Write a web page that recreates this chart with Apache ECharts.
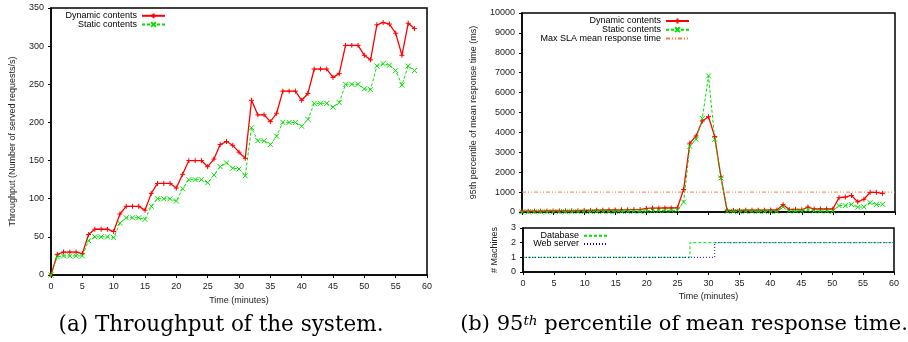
<!DOCTYPE html>
<html><head><meta charset="utf-8">
<script src="https://cdn.jsdelivr.net/npm/echarts@6/dist/echarts.min.js"></script>
<style>html,body{margin:0;padding:0;background:#fff}#c{width:908px;height:342px}</style>
</head><body><div id="c"></div>
<script>
const minutes = [0,1,2,3,4,5,6,7,8,9,10,11,12,13,14,15,16,17,18,19,20,21,22,23,24,25,26,27,28,29,30,31,32,33,34,35,36,37,38,39,40,41,42,43,44,45,46,47,48,49,50,51,52,53,54,55,56,57,58];
const dynamicThroughput = [0,27,30,30,30,28,53,60,60,60,57,80,90,90,90,85,107,120,120,120,114,132,150,150,150,142,152,171,175,170,161,153,229,210,210,201,212,241,241,241,229,238,270,270,270,259,264,301,301,301,288,282,328,331,329,317,288,330,323];
const staticThroughput = [0,24,25,25,25,25,45,50,50,50,49,68,75,75,75,73,90,100,100,100,97,113,125,125,125,121,131,142,147,140,139,130,193,176,176,171,182,200,200,200,195,204,225,225,225,220,226,250,250,250,244,243,274,277,275,268,249,274,268];
const dynamicResponse = [40,40,45,45,50,50,55,55,60,60,80,80,90,90,100,100,110,110,120,120,180,190,190,200,200,210,1130,3460,3820,4570,4790,3790,1760,80,80,80,90,90,90,90,100,100,370,120,130,110,250,150,150,150,150,720,750,830,510,640,985,985,935];
const staticResponse = [10,10,10,10,10,15,15,15,15,20,20,20,25,25,25,30,30,30,35,35,60,70,70,80,80,90,500,3300,3650,4700,6840,3650,1710,30,30,30,30,30,30,30,30,30,250,50,60,50,120,60,50,50,50,320,320,380,240,260,470,380,390];
const slaMinutes = [0,60];
const slaLimit = 1000;
const databaseMinutes = [0,27,60];
const databaseMachines = [1,2,2];
const webMinutes = [0,31,60];
const webMachines = [1,2,2];
const timeTicks = {min:0,max:60,interval:5};

const pair = (xs, ys) => xs.map((x,i)=>[x, ys[i]]);
const FONT = 'Liberation Sans';
const RED = '#ff0000', GREEN = '#00e000', BLUE = '#0000ff', ORANGE = '#ff7a40';
const plusSym = 'path://M0,5L10,5M5,0L5,10';
const crossSym = 'path://M0,0L10,10M10,0L0,10';
const hidden = {color:'rgba(0,0,0,0)', borderColor:'rgba(0,0,0,0)', borderWidth:0};
const lbl = {fontFamily:FONT, fontSize:9, color:'#222'};
const axLine = {show:true, lineStyle:{color:'#000', width:1.5}};
const tick = {show:true, inside:false, length:3, lineStyle:{color:'#000', width:1}};
const plain = v => String(v);

function xAx(grid, showLabel, name, gap){
  return {type:'value', gridIndex:grid, min:timeTicks.min, max:timeTicks.max, interval:timeTicks.interval,
    axisLine:axLine, axisTick:tick, splitLine:{show:false},
    axisLabel:Object.assign({show:showLabel, margin:7, formatter:plain}, lbl),
    name:name, nameLocation:'middle', nameGap:gap, nameTextStyle:lbl};
}
function yAx(grid, min, max, interval, name, gap){
  return {type:'value', gridIndex:grid, min:min, max:max, interval:interval,
    axisLine:axLine, axisTick:tick, splitLine:{show:false},
    axisLabel:Object.assign({margin:7, formatter:plain}, lbl),
    name:name, nameLocation:'middle', nameGap:gap, nameTextStyle:lbl};
}
function dyn(xi, yi, data){
  return {name:'Dynamic contents', type:'line', xAxisIndex:xi, yAxisIndex:yi, data:data,
    symbol:plusSym, symbolSize:5, showAllSymbol:true, animation:false,
    lineStyle:{color:RED, width:1.3},
    itemStyle:{color:RED, borderColor:RED, borderWidth:1}};
}
function sta(xi, yi, data){
  return {name:'Static contents', type:'line', xAxisIndex:xi, yAxisIndex:yi, data:data,
    symbol:crossSym, symbolSize:5, showAllSymbol:true, animation:false,
    lineStyle:{color:GREEN, width:1, type:[3,2]},
    itemStyle:{color:GREEN, borderColor:GREEN, borderWidth:1}};
}
function plainLine(name, xi, yi, data, color, dash, step){
  const s = {name:name, type:'line', xAxisIndex:xi, yAxisIndex:yi, data:data,
    symbol:'circle', symbolSize:1, showSymbol:false, animation:false,
    lineStyle:{color:color, width:1, type:dash}, itemStyle:hidden};
  if (step) s.step = step;
  return s;
}
function leg(name, right, top){
  return {orient:'vertical', align:'right', itemWidth:23, itemHeight:6, itemGap:0, padding:0,
    right:right, top:top, data:[name], selectedMode:false,
    textStyle:{fontFamily:FONT, fontSize:9, color:'#000'}};
}

const option = {
  animation:false,
  grid:[
    {left:51, top:8, width:376, height:267, show:true, borderColor:'#000', borderWidth:1.5},
    {left:522, top:13, width:373, height:199, show:true, borderColor:'#000', borderWidth:1.5},
    {left:523, top:228, width:371, height:44, show:true, borderColor:'#000', borderWidth:1.5}
  ],
  xAxis:[xAx(0,true,'Time (minutes)',20), xAx(1,false,'',20), xAx(2,true,'Time (minutes)',20)],
  yAxis:[
    yAx(0,0,350,50,'Throughput (Number of served requests/s)',34),
    yAx(1,0,10000,1000,'95th percentile of mean response time (ms)',44),
    yAx(2,0,3,1,'# Machines',24)
  ],
  legend:[
    leg('Dynamic contents',742,11.3), leg('Static contents',742,20),
    leg('Dynamic contents',218,16.5), leg('Static contents',218,25.2), leg('Max SLA mean response time',218,33.9),
    leg('Database',300,231.2), leg('Web server',300,239.5)
  ],
  series:[
    dyn(0,0,pair(minutes,dynamicThroughput)),
    sta(0,0,pair(minutes,staticThroughput)),
    plainLine('Max SLA mean response time',1,1,slaMinutes.map(m=>[m,slaLimit]),ORANGE,[4,2,1,2,1,2]),
    dyn(1,1,pair(minutes,dynamicResponse)),
    sta(1,1,pair(minutes,staticResponse)),
    plainLine('Database',2,2,pair(databaseMinutes,databaseMachines),GREEN,[3,2],'end'),
    plainLine('Web server',2,2,pair(webMinutes,webMachines),BLUE,[1,2],'end')
  ],
  graphic:[
    {type:'text', x:221, y:325, style:{text:'(a) Throughput of the system.', textAlign:'center', textVerticalAlign:'middle',
      font:'21.5px "DejaVu Serif"', fill:'#000'}},
    {type:'text', x:684, y:325, style:{text:'{a|(b) 95}{s|th}{a| percentile of mean response time.}', textAlign:'center', textVerticalAlign:'middle',
      rich:{a:{fontFamily:'DejaVu Serif', fontSize:21, fill:'#000', color:'#000'},
            s:{fontFamily:'DejaVu Serif', fontSize:13.5, fontStyle:'italic', verticalAlign:'top', color:'#000', fill:'#000'}}}}
  ]
};
const chart = echarts.init(document.getElementById('c'), null, {renderer:'canvas'});
chart.setOption(option);
</script></body></html>
